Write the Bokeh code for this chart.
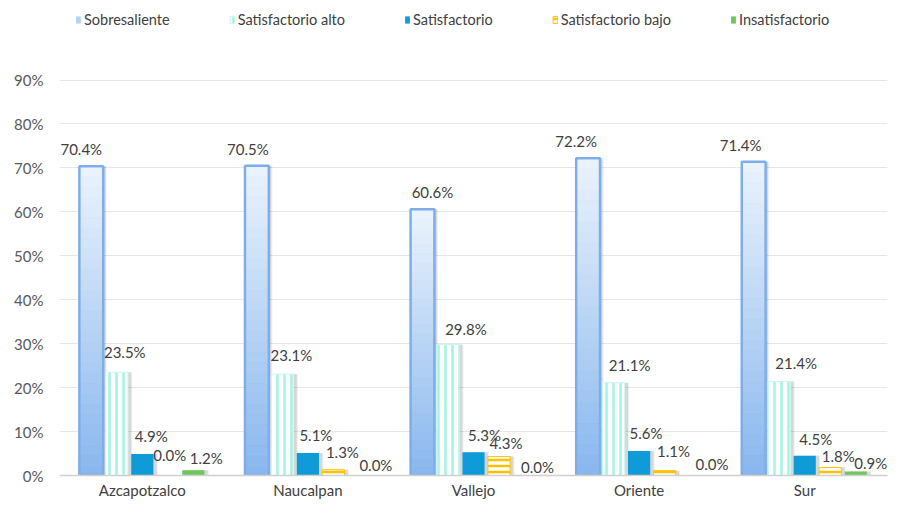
from bokeh.plotting import figure
from bokeh.models import (ColumnDataSource, FactorRange, Range1d, Legend, LegendItem,
                          PrintfTickFormatter, FixedTicker)
from bokeh.transform import dodge
from bokeh.core.properties import value
from bokeh.embed import file_html
from bokeh.resources import INLINE

# ---------------- data ----------------
categories = ["Azcapotzalco", "Naucalpan", "Vallejo", "Oriente", "Sur"]
series_names = ["Sobresaliente", "Satisfactorio alto", "Satisfactorio",
                "Satisfactorio bajo", "Insatisfactorio"]
sobresaliente = [70.4, 70.5, 60.6, 72.2, 71.4]
satisfactorio_alto = [23.5, 23.1, 29.8, 21.1, 21.4]
satisfactorio = [4.9, 5.1, 5.3, 5.6, 4.5]
satisfactorio_bajo = [0.0, 1.3, 4.3, 1.1, 1.8]
insatisfactorio = [1.2, 0.0, 0.0, 0.0, 0.9]
y_ticks = [0, 10, 20, 30, 40, 50, 60, 70, 80, 90]

series_values = [sobresaliente, satisfactorio_alto, satisfactorio,
                 satisfactorio_bajo, insatisfactorio]

# ---------------- styling: data-label nudges in screen pixels ----------------
label_dx = [[-10, -9, 10, -12, -13],
            [8, 9, 18, 16, 17],
            [9, 8, 11, 7, 11],
            [2, 9, 7, 9, 8],
            [13, 17, 13, 22, 15]]
label_dy = [[-17, -17, -17, -17, -17],
            [-20, -19, -16, -18, -18],
            [-18, -18, -17, -18, -17],
            [-21, -18, -14, -20, -12],
            [-12, -11, -9, -12, -9]]

FONT = value("Lato")
TXT = "#404040"

# frame spans the full height above the axis so the legend can sit over the 90% line
p = figure(x_range=FactorRange(*categories), y_range=Range1d(0, 108.1),
           width=889, height=501, output_backend="svg", toolbar_location=None,
           min_border_left=59, min_border_right=2, min_border_top=0,
           min_border_bottom=24)
p.outline_line_color = None
p.background_fill_color = "white"
p.border_fill_color = "white"

offsets = [-0.308, -0.154, 0.0, 0.154, 0.308]
bar_w = 0.134
sh_dx = 0.02

renderers = []
for k, vals in enumerate(series_values):
    src = ColumnDataSource(dict(cat=categories, val=vals))
    # soft shadow
    for extra, a in [(0.014, 0.06), (0.0, 0.10)]:
        p.vbar(x=dodge("cat", offsets[k] + sh_dx, range=p.x_range), top="val",
               bottom=-0.6, width=bar_w + extra, source=src,
               fill_color="#000000", fill_alpha=a, line_color=None)
    if k == 0:
        base = p.vbar(x=dodge("cat", offsets[k], range=p.x_range), top="val",
                      width=bar_w + 0.01, source=src, fill_color="#b4d3f5",
                      line_color=None)
        # vertical gradient (style only), built from the data heights
        n = 30
        c0 = (0x8a, 0xb8, 0xee)
        c1 = (0xea, 0xf3, 0xfd)
        for i in range(n):
            t = i / (n - 1)
            col = "#%02x%02x%02x" % tuple(int(c0[j] + (c1[j] - c0[j]) * t) for j in range(3))
            seg = ColumnDataSource(dict(cat=categories,
                                        b=[v * i / n for v in vals],
                                        t=[v * (i + 1) / n for v in vals]))
            p.vbar(x=dodge("cat", offsets[k], range=p.x_range), top="t", bottom="b",
                   width=bar_w + 0.01, source=seg, fill_color=col, line_color=col,
                   line_width=0.5)
        p.vbar(x=dodge("cat", offsets[k], range=p.x_range), top="val",
               width=bar_w + 0.01, source=src, fill_color=None,
               line_color="#7eaee9", line_width=2.5)
        renderers.append(base)
    elif k == 1:
        r = p.vbar(x=dodge("cat", offsets[k], range=p.x_range), top="val",
                   width=bar_w, source=src, fill_color="white",
                   hatch_pattern="vertical_line", hatch_color="#a3f3e2",
                   hatch_scale=7, hatch_weight=2.5,
                   line_color="#c9f9ef", line_width=1)
        renderers.append(r)
    elif k == 2:
        r = p.vbar(x=dodge("cat", offsets[k], range=p.x_range), top="val",
                   width=bar_w, source=src, fill_color="#0f9bd8", line_color=None)
        renderers.append(r)
    elif k == 3:
        r = p.vbar(x=dodge("cat", offsets[k], range=p.x_range), top="val",
                   width=bar_w, source=src, fill_color="white",
                   hatch_pattern="horizontal_line", hatch_color="#ffc000",
                   hatch_scale=6, hatch_weight=2.5, line_color="#ffc000",
                   line_width=1)
        renderers.append(r)
    else:
        r = p.vbar(x=dodge("cat", offsets[k], range=p.x_range), top="val",
                   width=bar_w, source=src, fill_color="#6fc65a", line_color=None)
        renderers.append(r)

# data labels
for k, vals in enumerate(series_values):
    src = ColumnDataSource(dict(cat=categories, val=vals,
                                lab=["%.1f%%" % v for v in vals],
                                dx=label_dx[k], dy=label_dy[k]))
    p.text(x=dodge("cat", offsets[k], range=p.x_range), y="val", text="lab",
           source=src, x_offset="dx", y_offset="dy",
           text_align="center", text_baseline="middle", text_font=FONT,
           text_font_size="15px", text_color=TXT)

# axes
p.yaxis.ticker = FixedTicker(ticks=y_ticks)
p.yaxis.formatter = PrintfTickFormatter(format="%d%%")
p.yaxis.axis_line_color = None
p.yaxis.major_tick_line_color = None
p.yaxis.minor_tick_line_color = None
p.yaxis.major_tick_out = 0
p.yaxis.major_tick_in = 0
p.yaxis.major_label_standoff = 16
p.yaxis.major_label_text_font = "Lato"
p.yaxis.major_label_text_font_size = "15px"
p.yaxis.major_label_text_color = "#595959"

p.xaxis.axis_line_color = "#d0d0d0"
p.xaxis.axis_line_width = 1.5
p.xaxis.major_tick_line_color = None
p.xaxis.minor_tick_line_color = None
p.xaxis.major_tick_out = 0
p.xaxis.major_tick_in = 0
p.xaxis.major_label_standoff = 5
p.xaxis.major_label_text_font = "Lato"
p.xaxis.major_label_text_font_size = "15px"
p.xaxis.major_label_text_color = TXT

p.xgrid.grid_line_color = None
p.ygrid.grid_line_color = "#e6e6e6"
p.ygrid.grid_line_width = 1

legend = Legend(items=[LegendItem(label=series_names[i], renderers=[renderers[i]])
                       for i in range(5)],
                orientation="horizontal", location=(16, 447),
                glyph_width=6, glyph_height=9, label_standoff=3, spacing=59,
                padding=0, margin=0, border_line_color=None,
                background_fill_alpha=0,
                label_text_font="Lato", label_text_font_size="14.5px",
                label_text_color=TXT)
p.add_layout(legend)

open("out.html", "w").write(file_html(p, INLINE))
